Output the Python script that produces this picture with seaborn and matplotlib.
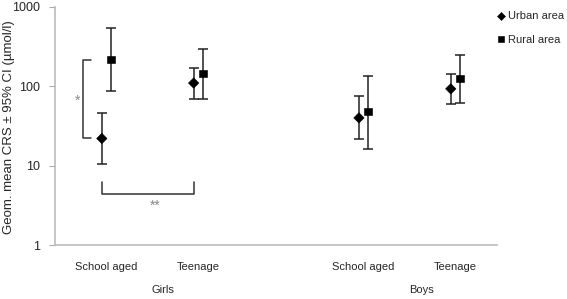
import pandas as pd
import matplotlib.pyplot as plt
import seaborn as sns

# values (log scale)
groups = ['Girls', 'Girls', 'Boys', 'Boys']
ages = ['School aged', 'Teenage', 'School aged', 'Teenage']
xpos = [0, 1, 2.8, 3.8]

urban_mean = [22, 110, 40, 93]
urban_low = [10.5, 69, 21.5, 60]
urban_high = [46, 171, 76, 145]

rural_mean = [219, 146, 48, 126]
rural_low = [87, 69, 16.4, 62]
rural_high = [540, 299, 136, 245]

rows = []
for i in range(4):
    rows.append({'x': xpos[i] - 0.05, 'area': 'Urban area', 'mean': urban_mean[i],
                 'low': urban_low[i], 'high': urban_high[i]})
    rows.append({'x': xpos[i] + 0.05, 'area': 'Rural area', 'mean': rural_mean[i],
                 'low': rural_low[i], 'high': rural_high[i]})
df = pd.DataFrame(rows)

sns.set_style('white')
plt.rcParams['font.family'] = ['Liberation Sans', 'DejaVu Sans']

fig = plt.figure(figsize=(5.67, 2.99), dpi=100)
ax = fig.add_axes([0.097, 0.1806, 0.779, 0.796])

for area in ['Urban area', 'Rural area']:
    d = df[df['area'] == area]
    ax.errorbar(d['x'], d['mean'], yerr=[d['mean'] - d['low'], d['high'] - d['mean']],
                fmt='none', ecolor='#222222', elinewidth=1.1, capsize=3.5, capthick=1.1)

sns.scatterplot(data=df, x='x', y='mean', style='area', markers={'Urban area': 'D', 'Rural area': 's'},
                color='black', s=28, edgecolor='black', ax=ax, zorder=3)

ax.set_yscale('log')
ax.set_ylim(1, 1000)
ax.set_xlim(-0.56, 4.25)
ax.set_yticks([1, 10, 100, 1000])
ax.set_yticklabels(['1', '10', '100', '1000'])
ax.minorticks_off()
ax.set_xticks(xpos)
ax.set_xticklabels(ages)
ax.tick_params(axis='x', length=4, color='#aaaaaa', labelsize=8, pad=8)
ax.tick_params(axis='y', left=True, length=4, color='#aaaaaa', labelsize=9, pad=7)
ax.set_xlabel('')
ax.set_ylabel('')
fig.text(0.016, 0.575, 'Geom. mean CRS ± 95% CI (µmol/l)', rotation=90,
         ha='center', va='center', fontsize=9.5)
for s in ['top', 'right']:
    ax.spines[s].set_visible(False)
for s in ['left', 'bottom']:
    ax.spines[s].set_color('#bbbbbb')
    ax.spines[s].set_linewidth(1.2)

# group labels
ax.text(0.61, -0.19, 'Girls', transform=ax.get_xaxis_transform(), ha='center', va='center', fontsize=8)
ax.text(3.43, -0.19, 'Boys', transform=ax.get_xaxis_transform(), ha='center', va='center', fontsize=8)

# significance brackets
ax.plot([-0.17, -0.25, -0.25, -0.17], [212, 212, 22.5, 22.5], color='#333333', lw=1.1)
ax.text(-0.31, 65, '*', color='#888888', ha='center', va='center', fontsize=10)
ax.plot([-0.05, -0.05, 0.95, 0.95], [6.3, 4.4, 4.4, 6.3], color='#333333', lw=1.1)
ax.text(0.53, 3.1, '**', color='#888888', ha='center', va='center', fontsize=10)

leg = ax.legend(loc='upper left', bbox_to_anchor=(0.985, 1.0), frameon=False, fontsize=8,
                handletextpad=0.0, handlelength=1.2, borderaxespad=0, labelspacing=1.2,
                markerscale=0.75)

fig.savefig('out.png', dpi=100)
